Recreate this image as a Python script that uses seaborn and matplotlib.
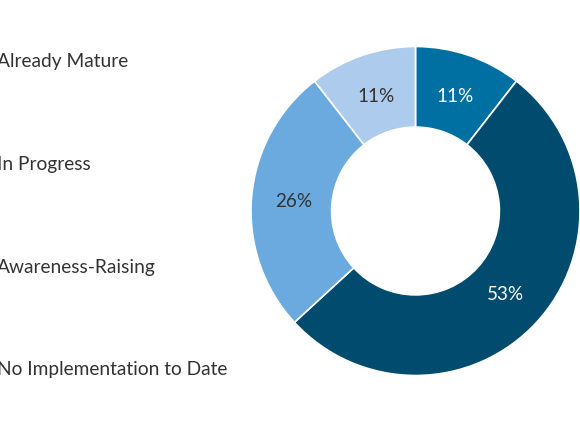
import matplotlib
matplotlib.use("Agg")
import matplotlib.pyplot as plt
import seaborn as sns

slice_values = [10.5, 52.6, 26.3, 10.5]
slice_colors = ["#0070A3", "#004B6E", "#6AAADF", "#ADCBEC"]
pct_colors = ["white", "white", "#333333", "#333333"]

legend_labels = ["Already Mature", "In Progress", "Awareness-Raising",
                 "No Implementation to Date"]

sns.set_theme(style="white")
plt.rcParams["font.family"] = ["Lato", "DejaVu Sans"]

fig = plt.figure(figsize=(5.8, 4.35), dpi=100)
ax = fig.add_axes([251 / 580, 58 / 435, 329 / 580, 330 / 435])

wedges, texts, autotexts = ax.pie(
    slice_values, colors=slice_colors, startangle=90, counterclock=False,
    autopct="%.0f%%", pctdistance=0.745, radius=1,
    wedgeprops=dict(width=0.49, edgecolor="white", linewidth=1.2),
    textprops=dict(fontsize=13.6),
)
for t, c in zip(autotexts, pct_colors):
    t.set_color(c)
ax.set_xlim(-1, 1)
ax.set_ylim(-1, 1)
ax.set_aspect("equal")
ax.axis("off")

# category labels on the left (start just past the canvas edge, as in the source)
label_y = [62, 165, 268, 370]
for lab, y in zip(legend_labels, label_y):
    fig.text(-3 / 580, 1 - y / 435, lab, ha="left", va="center",
             fontsize=13.8, color="#333333")

fig.savefig("out.png", dpi=100, facecolor="white")
